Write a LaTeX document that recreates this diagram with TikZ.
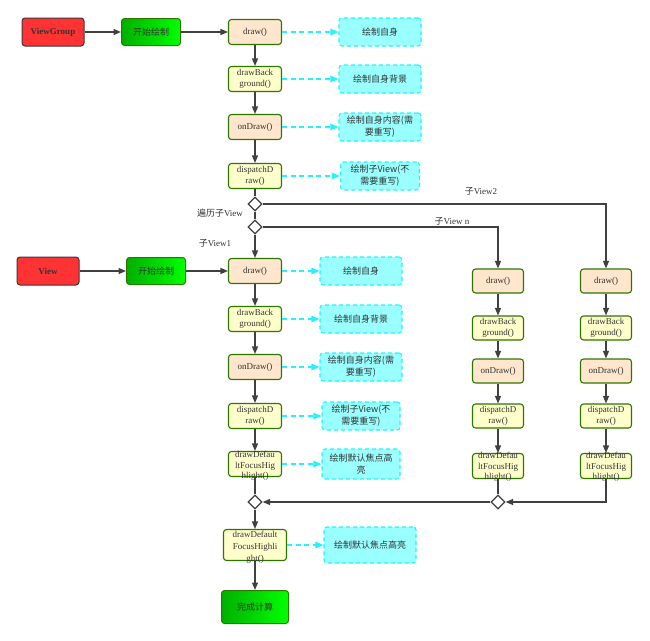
\documentclass[tikz,border=0pt]{standalone}
\usepackage{fontspec}
\setmainfont{Liberation Serif}
\newfontfamily\cjk{Noto Sans CJK SC}
\usetikzlibrary{shapes.geometric,arrows.meta}
\definecolor{redf}{HTML}{FF3333}
\definecolor{redd}{HTML}{36393D}
\definecolor{grnd}{HTML}{2D7600}
\definecolor{peach}{HTML}{FFE6CC}
\definecolor{yell}{HTML}{FFFFCC}
\definecolor{cyanf}{HTML}{99FFFF}
\definecolor{cyand}{HTML}{22F4FF}
\definecolor{lnc}{HTML}{404040}
\definecolor{txt}{HTML}{333333}
\definecolor{gdark}{HTML}{00B000}
\definecolor{glight}{HTML}{00FF00}
\tikzset{
  blk/.style={draw=grnd, line width=1.1pt, rounded corners=3pt, inner sep=1pt, align=center, font=\fontsize{9}{11}\selectfont, text=txt},
  pch/.style={blk, fill=peach, minimum width=53pt, minimum height=25pt},
  yel/.style={blk, fill=yell, minimum width=53pt, minimum height=25pt},
  emptybox/.style={draw=grnd, line width=1.1pt, rounded corners=3pt, fill=yell, inner sep=0pt},
  overtext/.style={align=center, font=\fontsize{9}{10.5}\selectfont, text=txt, inner sep=0pt},
  note/.style={draw=cyand, dash pattern=on 4pt off 3pt, fill=cyanf, rounded corners=3pt, line width=1.1pt, align=center, font=\cjk\fontsize{9}{12}\selectfont, text=txt, minimum height=28pt, inner sep=1pt},
  startbox/.style={draw=grnd, line width=1pt, rounded corners=3pt, left color=gdark, right color=glight, minimum width=59pt, minimum height=27pt, font=\cjk\fontsize{9}{11}\selectfont, text=txt},
  redbox/.style={draw=redd, fill=redf, rounded corners=3pt, line width=1pt, minimum width=62pt, minimum height=28pt, font=\bfseries\fontsize{9}{11}\selectfont, text=txt},
  dia/.style={diamond, draw=lnc, fill=white, line width=1.2pt, minimum width=14pt, minimum height=14pt, inner sep=0pt, aspect=1},
  arr/.style={draw=lnc, line width=1.2pt, -{Triangle[length=7.5pt,width=6pt]}},
  ln/.style={draw=lnc, line width=1.2pt},
  darr/.style={draw=cyand, dash pattern=on 5pt off 3.5pt, line width=1.4pt, -{Triangle[length=8pt,width=6.5pt]}},
  lbl/.style={font=\fontsize{9}{11}\selectfont, text=txt, inner sep=0pt}
}
\begin{document}
\begin{tikzpicture}[x=1pt,y=-1pt]
\useasboundingbox (0,0) rectangle (650,640);
% top row
\node[redbox] (vg) at (53,32) {ViewGroup};
\node[startbox] (s1) at (151,32) {开始绘制};
\node[pch] (d1) at (255,32) {draw()};
\node[note, minimum width=82pt] (c1) at (380,32) {绘制自身};
\node[yel] (b1) at (255,79) {drawBack\\ground()};
\node[note, minimum width=82pt] (c2) at (380,79) {绘制自身背景};
\node[pch] (o1) at (255,127) {onDraw()};
\node[note, minimum width=82pt] (c3) at (380,127) {绘制自身内容(需\\要重写)};
\node[yel] (p1) at (255,176) {dispatchD\\raw()};
\node[note, minimum width=79pt] (c4) at (380,176) {绘制子View(不\\需要重写)};
\node[dia] (D1) at (255,204) {};
\node[dia] (D2) at (255,227) {};
% labels
\node[lbl] (l2) at (481,191) {{\cjk 子}View2};
\node[lbl] (ln) at (452,221) {{\cjk 子}View n};
\node[lbl] (lt) at (220,213) {{\cjk 遍历子}View};
\node[lbl] (l1) at (215,243) {{\cjk 子}View1};
% view row
\node[redbox] (v) at (48,271) {View};
\node[startbox] (s2) at (156,271) {开始绘制};
\node[pch] (d2) at (255,271) {draw()};
\node[note, minimum width=82pt] (c5) at (361,271) {绘制自身};
\node[yel] (b2) at (255,319) {drawBack\\ground()};
\node[note, minimum width=82pt] (c6) at (361,319) {绘制自身背景};
\node[pch] (o2) at (255,367) {onDraw()};
\node[note, minimum width=82pt] (c7) at (361,367) {绘制自身内容(需\\要重写)};
\node[yel] (p2) at (255,416) {dispatchD\\raw()};
\node[note, minimum width=78pt] (c8) at (361,416) {绘制子View(不\\需要重写)};
\node[emptybox, minimum width=53pt, minimum height=25pt] (f2) at (255,464) {};
\node[overtext] (f2t) at (255,466) {drawDefau\\ltFocusHig\\hlight()};
\node[note, minimum width=78pt, minimum height=30pt] (c9) at (361,464) {绘制默认焦点高\\亮};
% column n
\node[pch, minimum width=51pt, minimum height=24pt] (dn) at (498,281) {draw()};
\node[yel, minimum width=51pt, minimum height=24pt] (bn) at (498,328) {drawBack\\ground()};
\node[pch, minimum width=51pt, minimum height=24pt] (on) at (498,371) {onDraw()};
\node[yel, minimum width=51pt, minimum height=24pt] (pn) at (498,416) {dispatchD\\raw()};
\node[emptybox, minimum width=51pt, minimum height=25pt] (fn) at (498,466) {};
\node[overtext] (fnt) at (498,467) {drawDefau\\ltFocusHig\\hlight()};
% column 2
\node[pch, minimum width=51pt, minimum height=24pt] (dm) at (606,281) {draw()};
\node[yel, minimum width=51pt, minimum height=24pt] (bm) at (606,328) {drawBack\\ground()};
\node[pch, minimum width=51pt, minimum height=24pt] (om) at (606,371) {onDraw()};
\node[yel, minimum width=51pt, minimum height=24pt] (pm) at (606,416) {dispatchD\\raw()};
\node[emptybox, minimum width=51pt, minimum height=25pt] (fm) at (606,466) {};
\node[overtext] (fmt) at (606,467) {drawDefau\\ltFocusHig\\hlight()};
% bottom
\node[dia] (M1) at (255,502) {};
\node[dia] (M2) at (498,502) {};
\node[emptybox, minimum width=63pt, minimum height=31pt] (fb) at (255,545) {};
\node[overtext, font=\fontsize{9}{12}\selectfont] (fbt) at (255,547) {drawDefault\\FocusHighli\\ght()};
\node[note, minimum width=92pt, minimum height=36pt] (c10) at (370,545) {绘制默认焦点高亮};
\node[startbox, minimum width=67pt, minimum height=33pt] (done) at (255,607) {完成计算};
% connectors top
\draw[arr] (vg) -- (s1);
\draw[arr] (s1) -- (d1);
\draw[arr] (d1) -- (b1);
\draw[arr] (b1) -- (o1);
\draw[arr] (o1) -- (p1);
\draw[ln] (p1) -- (D1.north);
\draw[ln] (D1.south) -- (D2.north);
\draw[arr] (D2.south) -- (d2);
\draw[arr] (D1.east) -| (dm.north);
\draw[arr] (D2.east) -| (dn.north);
\draw[darr] (d1.east) -- (c1.west);
\draw[darr] (b1.east) -- (c2.west);
\draw[darr] (o1.east) -- (c3.west);
\draw[darr] (p1.east) -- (c4.west);
% view
\draw[arr] (v) -- (s2);
\draw[arr] (s2) -- (d2);
\draw[arr] (d2) -- (b2);
\draw[arr] (b2) -- (o2);
\draw[arr] (o2) -- (p2);
\draw[arr] (p2) -- (f2);
\draw[ln] (f2) -- (M1.north);
\draw[darr] (d2.east) -- (c5.west);
\draw[darr] (b2.east) -- (c6.west);
\draw[darr] (o2.east) -- (c7.west);
\draw[darr] (p2.east) -- (c8.west);
\draw[darr] (f2.east) -- (c9.west);
% columns
\draw[arr] (dn) -- (bn);
\draw[arr] (bn) -- (on);
\draw[arr] (on) -- (pn);
\draw[arr] (pn) -- (fn);
\draw[ln] (fn) -- (M2.north);
\draw[arr] (dm) -- (bm);
\draw[arr] (bm) -- (om);
\draw[arr] (om) -- (pm);
\draw[arr] (pm) -- (fm);
\draw[arr] (fm.south) |- (M2.east);
\draw[arr] (M2.west) -- (M1.east);
% bottom
\draw[arr] (M1.south) -- (fb);
\draw[arr] (fb) -- (done);
\draw[darr] (fb.east) -- (c10.west);
\end{tikzpicture}
\end{document}
